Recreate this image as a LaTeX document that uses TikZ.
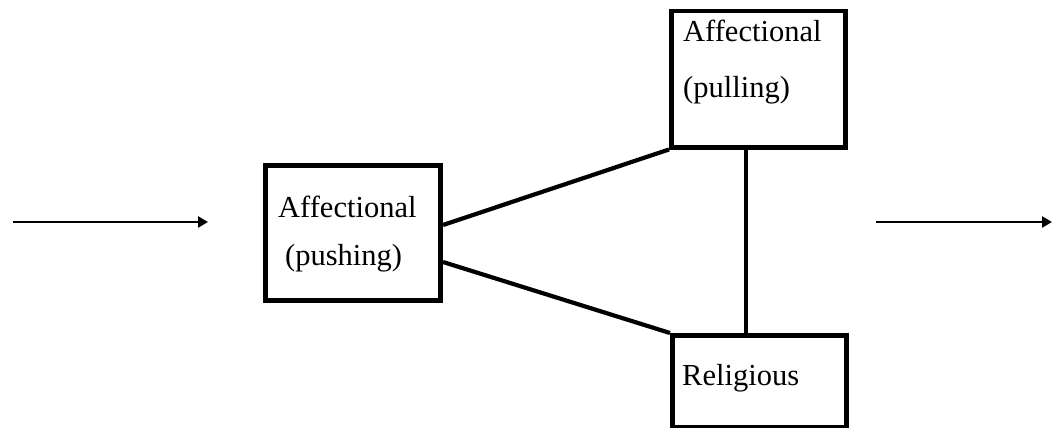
\documentclass[tikz,border=0pt]{standalone}
\usepackage{fontspec}
\setmainfont{Liberation Serif}
\usetikzlibrary{arrows.meta}
\begin{document}
\begin{tikzpicture}[x=1pt,y=-1pt,
  box/.style={draw,line width=4.5pt,inner sep=0pt,anchor=north west},
  lbl/.style={anchor=base west,inner sep=0pt,font=\fontsize{30.5}{34}\selectfont},
  conn/.style={line width=4.2pt},
  flow/.style={line width=2.6pt,-{Triangle[length=10pt,width=11pt]}}]
\useasboundingbox (0,0) rectangle (1053,428);
% boxes
\node[box,minimum width=175pt,minimum height=135pt] (push) at (263,163) {};
\node[box,minimum width=174pt,minimum height=136pt] (pull) at (669,9) {};
\node[box,minimum width=174pt,minimum height=92pt] (rel) at (670,333) {};
% texts
\node[lbl] (t1) at (278,217) {Affectional};
\node[lbl] (t2) at (285,265) {(pushing)};
\node[lbl] (t3) at (683,42) {Affectional};
\node[lbl] (t4) at (683,97) {(pulling)};
\node[lbl] (t5) at (682,385) {Religious};
% connectors
\coordinate (pa) at (443,225);
\coordinate (pb) at (443,262);
\coordinate (va) at (746,145);
\coordinate (vb) at (746,333);
\draw[conn] (pa) -- (pull.south west);
\draw[conn] (pb) -- (rel.north west);
\draw[conn] (va) -- (vb);
% flow arrows
\coordinate (l1) at (13,222);
\coordinate (l2) at (208,222);
\coordinate (r1) at (876,222);
\coordinate (r2) at (1052,222);
\draw[flow] (l1) -- (l2);
\draw[flow] (r1) -- (r2);
\end{tikzpicture}
\end{document}
